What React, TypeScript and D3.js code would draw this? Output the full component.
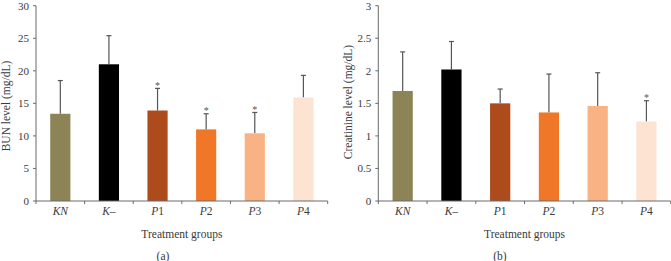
import React from "react";
import * as d3 from "d3";

const categories = ["KN", "K–", "P1", "P2", "P3", "P4"];
const colors = ["#8c8456", "#000000", "#ad4b1c", "#f07628", "#f8b283", "#fde3d2"];

const bunMeans = [13.4, 21.0, 13.9, 11.0, 10.4, 15.9];
const bunErrTops = [18.5, 25.4, 17.3, 13.4, 13.6, 19.3];
const bunStars = [false, false, true, true, true, false];
const bunTicks = [0, 5, 10, 15, 20, 25, 30];

const creMeans = [1.69, 2.02, 1.5, 1.36, 1.46, 1.22];
const creErrTops = [2.29, 2.45, 1.72, 1.95, 1.97, 1.54];
const creStars = [false, false, false, false, false, true];
const creTicks = [0, 0.5, 1, 1.5, 2, 2.5, 3];

const FONT = "'Liberation Serif', 'Times New Roman', serif";
const TEXT = "#3a3a3a";
const AXIS = "#6a6a6a";

function CatLabel({ name }: { name: string }) {
  const m = name.match(/^([A-Za-z]+)(\d*)$/);
  if (m && m[2]) {
    return (
      <>
        <tspan fontStyle="italic">{m[1]}</tspan>
        <tspan>{m[2]}</tspan>
      </>
    );
  }
  return <tspan fontStyle="italic">{name}</tspan>;
}

function Panel(props: {
  x0: number;
  x1: number;
  max: number;
  ticks: number[];
  means: number[];
  errTops: number[];
  stars: boolean[];
  yLabel: string;
  yLabelX: number;
  yLabelY: number;
  letter: string;
  letterX: number;
}) {
  const { x0, x1, max, ticks, means, errTops, stars, yLabel, yLabelX, yLabelY, letter, letterX } = props;
  const yTop = 5.7;
  const yBot = 201;
  const y = d3.scaleLinear().domain([0, max]).range([yBot, yTop]);
  const x = d3.scaleBand<string>().domain(categories).range([x0, x1]).paddingInner(0.585).paddingOuter(0.2925);
  const band = (x1 - x0) / categories.length;
  const barW = x.bandwidth();
  return (
    <g fontFamily={FONT} fill={TEXT}>
      {/* y axis */}
      <line x1={x0} x2={x0} y1={yTop} y2={yBot} stroke={AXIS} strokeWidth={1} />
      {ticks.map((t) => (
        <g key={t}>
          <line x1={x0 - 3} x2={x0} y1={y(t)} y2={y(t)} stroke={AXIS} strokeWidth={1} />
          <text x={x0 - 7} y={y(t)} dy="0.35em" textAnchor="end" fontSize={11}>
            {t}
          </text>
        </g>
      ))}
      {/* bars */}
      {categories.map((c, i) => {
        const bx = x(c)!;
        const cx = bx + barW / 2;
        return (
          <g key={c}>
            <line x1={cx} x2={cx} y1={y(means[i])} y2={y(errTops[i])} stroke="#555" strokeWidth={1.2} />
            <line x1={cx - 2.5} x2={cx + 2.5} y1={y(errTops[i])} y2={y(errTops[i])} stroke="#555" strokeWidth={1.2} />
            <rect x={bx} y={y(means[i])} width={barW} height={yBot - y(means[i])} fill={colors[i]} />
            {stars[i] && (
              <text x={cx} y={y(errTops[i]) + 0.5} textAnchor="middle" fontSize={10} fill="#555">
                *
              </text>
            )}
          </g>
        );
      })}
      {/* x axis */}
      <line x1={x0} x2={x1} y1={yBot} y2={yBot} stroke={AXIS} strokeWidth={1} />
      {d3.range(categories.length + 1).map((k) => (
        <line key={k} x1={x0 + k * band} x2={x0 + k * band} y1={yBot} y2={yBot + 3} stroke={AXIS} strokeWidth={1} />
      ))}
      {categories.map((c) => (
        <text key={c} x={x(c)! + barW / 2} y={215} textAnchor="middle" fontSize={11.5}>
          <CatLabel name={c} />
        </text>
      ))}
      <text x={(x0 + x1) / 2} y={238} textAnchor="middle" fontSize={11.5}>
        Treatment groups
      </text>
      <text x={letterX} y={260} textAnchor="middle" fontSize={11.5}>
        {letter}
      </text>
      <text
        transform={`translate(${yLabelX},${yLabelY}) rotate(-90)`}
        textAnchor="middle"
        dy="0.35em"
        fontSize={11.5}
      >
        {yLabel}
      </text>
    </g>
  );
}

export default function App() {
  return (
    <svg width={671} height={261} style={{ position: "absolute", left: 0, top: 0, background: "#fff" }}>
      <rect width={671} height={261} fill="#fff" />
      <Panel
        x0={36}
        x1={327.7}
        max={30}
        ticks={bunTicks}
        means={bunMeans}
        errTops={bunErrTops}
        stars={bunStars}
        yLabel="BUN level (mg/dL)"
        yLabelX={6}
        yLabelY={106}
        letter="(a)"
        letterX={163}
      />
      <Panel
        x0={378.3}
        x1={670.8}
        max={3}
        ticks={creTicks}
        means={creMeans}
        errTops={creErrTops}
        stars={creStars}
        yLabel="Creatinine level (mg/dL)"
        yLabelX={348}
        yLabelY={102}
        letter="(b)"
        letterX={500}
      />
    </svg>
  );
}
